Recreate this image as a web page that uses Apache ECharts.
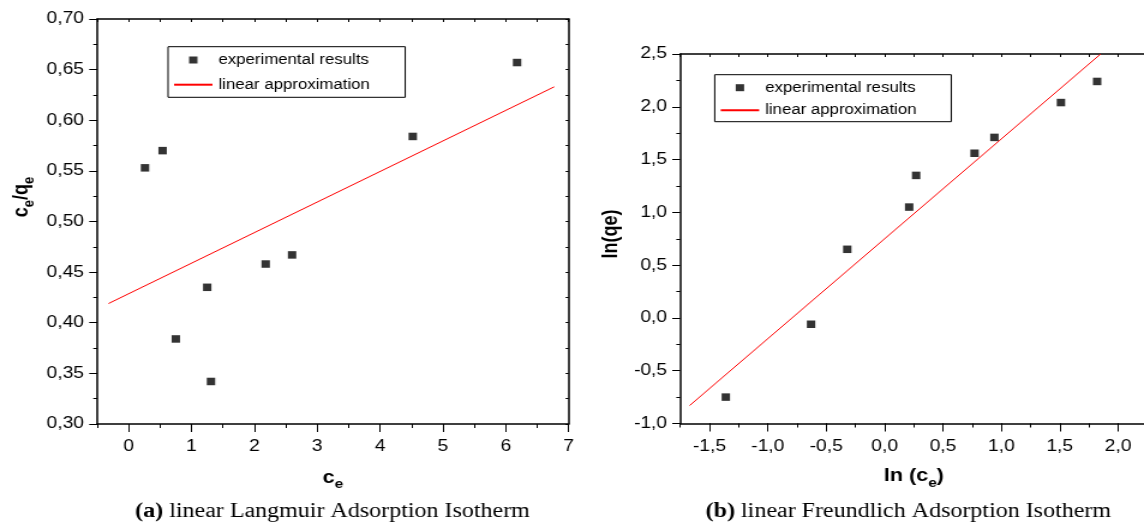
<!DOCTYPE html>
<html>
<head>
<meta charset="utf-8">
<script src="https://cdn.jsdelivr.net/npm/echarts@6/dist/echarts.min.js"></script>
<style>
  html, body { margin: 0; padding: 0; background: #fff; overflow: hidden; }
  /* the source figure is stretched sideways, so draw it narrower and widen it */
  #isotherms { width: 953px; height: 526px; transform: scaleX(1.2004); transform-origin: 0 0; }
</style>
</head>
<body>
<div id="isotherms"></div>
<script>
// (a) linear Langmuir: c_e against c_e/q_e
var langCe = [0.26, 0.54, 0.75, 1.25, 1.31, 2.18, 2.60, 4.52, 6.18];
var langRatio = [0.553, 0.570, 0.384, 0.435, 0.342, 0.458, 0.467, 0.584, 0.657];
var langFitX = [-0.32, 6.77];
var langFitY = [0.419, 0.633];
var langXTicks = [0, 1, 2, 3, 4, 5, 6, 7];

// (b) linear Freundlich: ln(c_e) against ln(q_e)
var freLnCe = [-1.36, -0.63, -0.32, 0.21, 0.27, 0.77, 0.94, 1.51, 1.82];
var freLnQe = [-0.75, -0.06, 0.65, 1.05, 1.35, 1.56, 1.71, 2.04, 2.24];
var freFitX = [-1.67, 1.85];
var freFitY = [-0.83, 2.5];
var freXTicks = [-1.5, -1, -0.5, 0, 0.5, 1, 1.5, 2];

function zip(xs, ys) {
  return xs.map(function (x, i) { return [x, ys[i]]; });
}
// decimal comma, as in the figure
function comma(digits) {
  return function (v) { return v.toFixed(digits).replace('.', ','); };
}

var sans = 'Liberation Sans, Arial, sans-serif';
var serif = 'Liberation Serif, Times New Roman, serif';
var frame = { onZero: false, lineStyle: { color: '#000', width: 1.5 } };
var tickLabel = { fontFamily: sans, fontSize: 16, color: '#000' };
// bold title with lowered subscript e
var nameRich = {
  b: { fontFamily: sans, fontSize: 18, fontWeight: 'bold', color: '#000', lineHeight: 18, verticalAlign: 'top' },
  s: { fontFamily: sans, fontSize: 13, fontWeight: 'bold', color: '#000', lineHeight: 22, verticalAlign: 'bottom' }
};

// axis with labelled major ticks
function majorAxis(grid, pos, min, max, ticks, fmt, tickLen, margin) {
  return {
    type: 'value', gridIndex: grid, position: pos, min: min, max: max,
    axisLine: frame,
    axisTick: { customValues: ticks, length: tickLen, lineStyle: { color: '#000', width: 1 } },
    axisLabel: Object.assign({ customValues: ticks, formatter: fmt, margin: margin }, tickLabel),
    splitLine: { show: false }
  };
}
// plain tick row (minor ticks, or the mirrored frame side)
function tickAxis(grid, pos, min, max, step, tickLen, inside, showLine) {
  return {
    type: 'value', gridIndex: grid, position: pos, min: min, max: max, interval: step,
    axisLine: showLine ? frame : { show: false, onZero: false },
    axisTick: { inside: inside, length: tickLen, lineStyle: { color: '#000', width: 1 } },
    axisLabel: { show: false },
    splitLine: { show: false }
  };
}

function legendBox(left, top, gap, pad) {
  return {
    orient: 'vertical', left: left, top: top, selectedMode: false,
    data: [
      { name: 'experimental results', icon: 'path://M0,0L10,0L10,10L0,10Z' },
      { name: 'linear approximation', itemStyle: { opacity: 0 } }
    ],
    itemWidth: 32, itemHeight: 7, itemGap: gap, padding: pad,
    borderColor: '#000', borderWidth: 1,
    textStyle: { fontFamily: sans, fontSize: 14, color: '#000' }
  };
}

var langX = majorAxis(0, 'bottom', -0.5, 7, langXTicks, comma(0), 8, 15);
langX.name = '{b|c}{s|e}';
langX.nameLocation = 'middle';
langX.nameGap = 45;
langX.nameTextStyle = { rich: nameRich };

var freX = majorAxis(1, 'bottom', -1.75, 2.25, freXTicks, comma(1), 8, 15);
freX.name = '{b|ln (c}{s|e}{b|)}';
freX.nameLocation = 'middle';
freX.nameGap = 44;
freX.nameTextStyle = { rich: nameRich };

var chart = echarts.init(document.getElementById('isotherms'));
chart.setOption({
  animation: false,
  backgroundColor: '#fff',
  grid: [
    { left: 81, right: 479.3, top: 19, bottom: 102, outerBoundsMode: 'none' },
    { left: 566.7, right: -2.8, top: 54, bottom: 102.5, outerBoundsMode: 'none' }
  ],
  legend: [
    legendBox(140, 46.7, 10.7, [6.3, 29.5, 5.6, 4]),
    legendBox(595.4, 74.7, 8.6, [6, 29, 4.4, 4])
  ],
  xAxis: [
    langX,
    tickAxis(0, 'bottom', -0.5, 7, 0.5, 4, false, false),
    tickAxis(0, 'top', -0.5, 7, 0.5, 3, true, true),
    freX,
    tickAxis(1, 'bottom', -1.75, 2.25, 0.25, 4, false, false),
    tickAxis(1, 'top', -1.75, 2.25, 0.25, 3, true, true)
  ],
  yAxis: [
    {
      type: 'value', gridIndex: 0, position: 'left', min: 0.3, max: 0.7, interval: 0.05,
      axisLine: frame,
      axisTick: { length: 6.7, lineStyle: { color: '#000', width: 1 } },
      minorTick: { show: true, splitNumber: 2, length: 3.3, lineStyle: { color: '#000', width: 1 } },
      axisLabel: Object.assign({ formatter: comma(2), margin: 11 }, tickLabel),
      splitLine: { show: false }
    },
    tickAxis(0, 'right', 0.3, 0.7, 0.025, 2.5, true, true),
    {
      type: 'value', gridIndex: 1, position: 'left', min: -1, max: 2.5, interval: 0.5,
      axisLine: frame,
      axisTick: { length: 6.7, lineStyle: { color: '#000', width: 1 } },
      minorTick: { show: true, splitNumber: 2, length: 3.3, lineStyle: { color: '#000', width: 1 } },
      axisLabel: Object.assign({ formatter: comma(1), margin: 11 }, tickLabel),
      splitLine: { show: false }
    }
  ],
  series: [
    {
      name: 'experimental results', type: 'scatter', xAxisIndex: 0, yAxisIndex: 0,
      data: zip(langCe, langRatio), symbol: 'rect', symbolSize: [7, 7.5],
      itemStyle: { color: '#000' }
    },
    {
      name: 'linear approximation', type: 'line', xAxisIndex: 0, yAxisIndex: 0,
      data: zip(langFitX, langFitY), symbol: 'none',
      lineStyle: { color: '#ff0000', width: 1 }, itemStyle: { color: '#ff0000' }
    },
    {
      name: 'experimental results', type: 'scatter', xAxisIndex: 3, yAxisIndex: 2,
      data: zip(freLnCe, freLnQe), symbol: 'rect', symbolSize: [7, 7.5],
      itemStyle: { color: '#000' }
    },
    {
      name: 'linear approximation', type: 'line', xAxisIndex: 3, yAxisIndex: 2,
      data: zip(freFitX, freFitY), symbol: 'none',
      lineStyle: { color: '#ff0000', width: 1 }, itemStyle: { color: '#ff0000' }
    }
  ],
  graphic: [
    // y axis titles, turned to read upwards
    {
      type: 'text', x: 20, y: 197, rotation: Math.PI / 2,
      style: { text: '{b|c}{s|e}{b|/q}{s|e}', rich: nameRich, align: 'center', verticalAlign: 'middle' }
    },
    {
      type: 'text', x: 509, y: 234, rotation: Math.PI / 2,
      style: { text: 'ln(qe)', fontFamily: sans, fontSize: 18, fontWeight: 'bold', fill: '#000', align: 'center', verticalAlign: 'middle' }
    },
    // sub-figure captions
    {
      type: 'text', x: 277, y: 512,
      style: {
        text: '{b|(a)}{n| linear Langmuir Adsorption Isotherm}', align: 'center', verticalAlign: 'middle',
        rich: {
          b: { fontFamily: serif, fontSize: 20, fontWeight: 'bold', color: '#000' },
          n: { fontFamily: serif, fontSize: 20, color: '#000' }
        }
      }
    },
    {
      type: 'text', x: 756.7, y: 512,
      style: {
        text: '{b|(b)}{n| linear Freundlich Adsorption Isotherm}', align: 'center', verticalAlign: 'middle',
        rich: {
          b: { fontFamily: serif, fontSize: 20, fontWeight: 'bold', color: '#000' },
          n: { fontFamily: serif, fontSize: 20, color: '#000' }
        }
      }
    }
  ]
});
</script>
</body>
</html>
